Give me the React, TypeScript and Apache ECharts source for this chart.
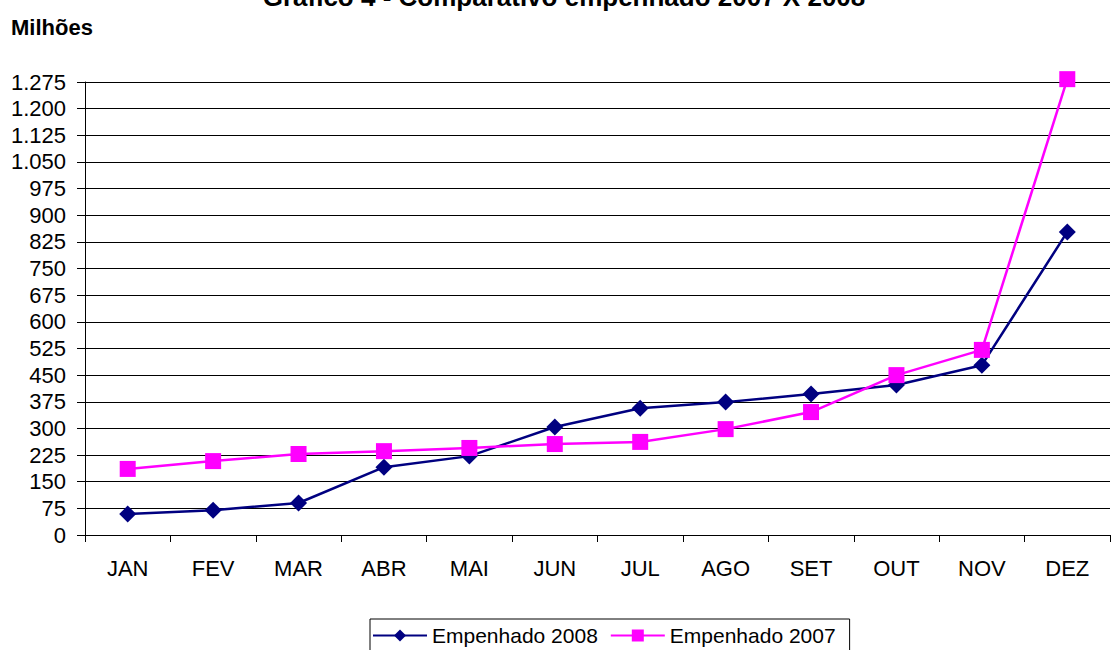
import React, { useEffect, useRef } from "react";
import * as echarts from "echarts";

const categories = ["JAN", "FEV", "MAR", "ABR", "MAI", "JUN", "JUL", "AGO", "SET", "OUT", "NOV", "DEZ"];
const empenhado2008 = [59, 70, 90, 191, 222, 304, 357, 374, 397, 422, 478, 853];
const empenhado2007 = [186, 208, 228, 236, 245, 256, 262, 298, 346, 450, 521, 1283];
const yMin = 0;
const yMax = 1275;
const yStep = 75;

const fmt = (v: number) => String(v).replace(/\B(?=(\d{3})+(?!\d))/g, ".");

export default function App() {
  const ref = useRef<HTMLDivElement>(null);
  useEffect(() => {
    if (!ref.current) return;
    const chart = echarts.init(ref.current, null, { renderer: "svg" });
    const font = "'Liberation Sans', Arial, sans-serif";
    chart.setOption({
      animation: false,
      textStyle: { fontFamily: font },
      graphic: [
        {
          type: "text",
          x: 564,
          y: -16,
          style: {
            text: "Gráfico 4 - Comparativo empenhado 2007 X 2008",
            font: `bold 26px ${font}`,
            fill: "#000",
            align: "center",
            verticalAlign: "top",
          },
        },
        {
          type: "text",
          x: 11,
          y: 16,
          style: { text: "Milhões", font: `bold 22px ${font}`, fill: "#000", verticalAlign: "top" },
        },
      ],
      legend: {
        top: 619,
        left: 370,
        itemWidth: 54,
        itemHeight: 15,
        itemGap: 12,
        padding: [6, 14, 8, 2],
        borderColor: "#000",
        borderWidth: 1,
        textStyle: { fontSize: 21, color: "#000", fontFamily: font },
        data: ["Empenhado 2008", "Empenhado 2007"],
      },
      grid: { left: 85, right: 4, top: 82, bottom: 115, containLabel: false },
      xAxis: {
        type: "category",
        data: categories,
        boundaryGap: true,
        axisLine: { lineStyle: { color: "#000", width: 1 } },
        axisTick: { show: true, length: 7, lineStyle: { color: "#000" } },
        axisLabel: { fontSize: 22, color: "#000", margin: 22, fontFamily: font },
      },
      yAxis: {
        type: "value",
        min: yMin,
        max: yMax,
        interval: yStep,
        axisLine: { show: true, lineStyle: { color: "#000", width: 1 } },
        axisTick: { show: true, length: 8, lineStyle: { color: "#000" } },
        axisLabel: { fontSize: 22, color: "#000", margin: 19, fontFamily: font, formatter: (v: number) => fmt(v) },
        splitLine: { show: true, lineStyle: { color: "#000", width: 1 } },
      },
      series: [
        {
          name: "Empenhado 2008",
          type: "line",
          data: empenhado2008,
          clip: false,
          symbol: "diamond",
          symbolSize: 17,
          itemStyle: { color: "#000080" },
          lineStyle: { color: "#000080", width: 2.5 },
        },
        {
          name: "Empenhado 2007",
          type: "line",
          data: empenhado2007,
          clip: false,
          symbol: "rect",
          symbolSize: 16,
          itemStyle: { color: "#FF00FF" },
          lineStyle: { color: "#FF00FF", width: 2.5 },
        },
      ],
    });
    return () => chart.dispose();
  }, []);
  return <div ref={ref} style={{ width: 1114, height: 650, position: "absolute", left: 0, top: 0 }} />;
}
